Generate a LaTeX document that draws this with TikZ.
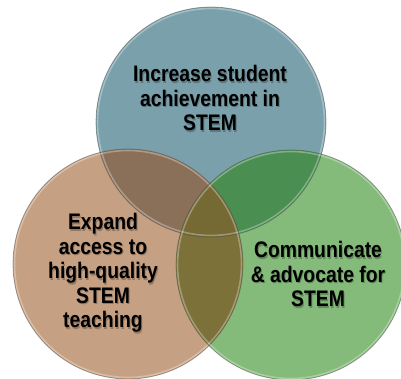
\documentclass[tikz,border=0pt]{standalone}
\usepackage{fontspec}
\newfontfamily\vennfont[FakeStretch=0.86]{Liberation Sans}
\usepackage{xcolor}
\usepackage{tikz}
\usetikzlibrary{positioning}
\definecolor{blueset}{RGB}{122,161,171}
\definecolor{orangeset}{RGB}{198,160,130}
\definecolor{greenset}{RGB}{132,186,122}
\definecolor{bluebrown}{RGB}{138,112,88}
\definecolor{bluegreen}{RGB}{74,142,82}
\definecolor{olive}{RGB}{124,113,56}
\definecolor{darkolive}{RGB}{118,106,52}

\begin{document}
\begin{tikzpicture}[x=1pt,y=-1pt,
      setcircle/.style={
         circle,
         inner sep=0pt,
         minimum size=230pt},
      outline/.style={
         draw=black!70,
         draw opacity=0.5,
         line width=0.7pt},
      rim/.style={
         draw=white,
         draw opacity=0.3,
         line width=1.6pt},
      settext/.style={
         align=center,
         font=\vennfont\bfseries\fontsize{22.5}{24.5}\selectfont}
      ]
      \useasboundingbox (0,0) rectangle (401,379);

    \foreach \n/\x/\y/\c in {% name/x/y/colour
      c1/211/122/blueset,
      c2/128/264/orangeset,
      c3/291/265/greenset}
       \node[setcircle, fill=\c] (\n) at (\x,\y) {};

     % overlaps
     \begin{scope}
       \clip (c2.center) circle[radius=115pt];
       \fill[olive] (c3.center) circle[radius=115pt];
     \end{scope}
     \begin{scope}
       \clip (c1.center) circle[radius=115pt];
       \fill[bluebrown] (c2.center) circle[radius=115pt];
       \fill[bluegreen] (c3.center) circle[radius=115pt];
       \clip (c2.center) circle[radius=115pt];
       \fill[darkolive] (c3.center) circle[radius=115pt];
     \end{scope}

    \foreach \n in {c1,c2,c3}{
       \draw[rim] (\n.center) circle[radius=113.5pt];
       \draw[outline] (\n.center) circle[radius=115pt];
    }

    % labels, with a soft shadow copy underneath
    \foreach \n/\x/\y/\txt in {%
      t1/210/98/{Increase student\\achievement in\\STEM},
      t2/103/273/{Expand\\access to\\high-quality\\STEM\\teaching},
      t3/318/274/{Communicate\\\& advocate for\\STEM}}{
       \node[settext, text=black, text opacity=0.25] (\n s) at (\x+1,\y+1.5) {\txt};
       \node[settext] (\n) at (\x,\y) {\txt};
    }
    \end{tikzpicture}
\end{document}
